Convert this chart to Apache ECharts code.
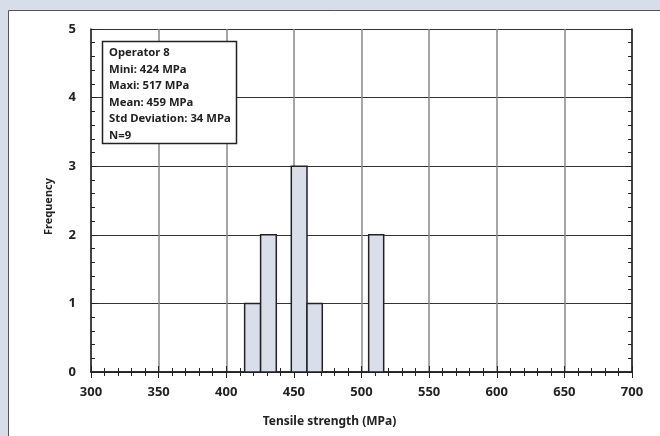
<!DOCTYPE html>
<html>
<head>
<meta charset="utf-8">
<title></title>
<script src="https://cdn.jsdelivr.net/npm/echarts@6/dist/echarts.min.js"></script>
</head>
<body style="margin:0;">
<div id="main" style="width:660px;height:436px;"></div>
<script>
// histogram bins (MPa) and counts
var binStart = [413.6, 425.4, 448.1, 459.7, 505.3];
var binEnd = [425.4, 437.0, 459.7, 471.0, 516.4];
var counts = [1, 2, 3, 1, 2];
var statsLines = ['Operator 8', 'Mini: 424 MPa', 'Maxi: 517 MPa', 'Mean: 459 MPa', 'Std Deviation: 34 MPa', 'N=9'];

var myChart = echarts.init(document.getElementById('main'));

var data = [];
for (var i = 0; i < counts.length; i++) {
	data.push([binStart[i], binEnd[i], counts[i]]);
}

var font = 'Noto Sans';
var tickStyle = { show: true, inside: true, length: 6, lineStyle: { color: '#222', width: 1 } };
var minorStyle = { show: true, splitNumber: 5, length: 4, lineStyle: { color: '#222', width: 1 } };

var option = {
	backgroundColor: '#d8dee9',
	animation: false,
	graphic: [{
		type: 'rect',
		z: -10,
		shape: { x: 8.5, y: 10.5, width: 700, height: 500 },
		style: { fill: '#fff', stroke: '#555', lineWidth: 1 }
	}, {
		type: 'rect',
		z: 100,
		shape: { x: 102.5, y: 41.5, width: 134, height: 102 },
		style: { fill: '#fff', stroke: '#222', lineWidth: 1.5 }
	}, {
		type: 'text',
		z: 101,
		left: 109,
		top: 45,
		style: {
			text: statsLines.join('\n'),
			font: 'bold 11.3px "Noto Sans"',
			lineHeight: 16.5,
			fill: '#222'
		}
	}],
	grid: {
		left: 91,
		right: 28,
		top: 29,
		bottom: 64
	},
	xAxis: [{
		type: 'value',
		min: 300,
		max: 700,
		interval: 50,
		name: 'Tensile strength (MPa)',
		nameLocation: 'middle',
		nameGap: 44,
		nameTextStyle: { fontFamily: font, fontWeight: 'bold', fontSize: 12, color: '#222', padding: [0, 64, 0, 0] },
		axisLine: { lineStyle: { color: '#222', width: 1.5 } },
		axisTick: tickStyle,
		minorTick: minorStyle,
		axisLabel: { fontFamily: font, fontWeight: 'bold', fontSize: 13, color: '#222', margin: 14 },
		splitLine: { show: true, lineStyle: { color: '#888', width: 1.5 } }
	}, {
		type: 'value',
		position: 'top',
		min: 300,
		max: 700,
		interval: 50,
		axisLine: { lineStyle: { color: '#222', width: 1.5 } },
		axisTick: tickStyle,
		minorTick: minorStyle,
		axisLabel: { show: false },
		splitLine: { show: false }
	}],
	yAxis: [{
		type: 'value',
		min: 0,
		max: 5,
		interval: 1,
		name: 'Frequency',
		nameLocation: 'middle',
		nameGap: 37,
		nameTextStyle: { fontFamily: font, fontWeight: 'bold', fontSize: 11, color: '#222', padding: [0, 12, 0, 0] },
		axisLine: { show: true, lineStyle: { color: '#222', width: 1.5 } },
		axisTick: tickStyle,
		minorTick: minorStyle,
		axisLabel: { fontFamily: font, fontWeight: 'bold', fontSize: 13, color: '#222', margin: 15 },
		splitLine: { show: true, lineStyle: { color: '#333', width: 1 } }
	}, {
		type: 'value',
		position: 'right',
		min: 0,
		max: 5,
		interval: 1,
		axisLine: { show: true, lineStyle: { color: '#222', width: 1.5 } },
		axisTick: tickStyle,
		minorTick: minorStyle,
		axisLabel: { show: false },
		splitLine: { show: false }
	}],
	series: [{
		type: 'custom',
		renderItem: function (params, api) {
			var p0 = api.coord([api.value(0), 0]);
			var p1 = api.coord([api.value(1), api.value(2)]);
			return {
				type: 'rect',
				shape: { x: p0[0], y: p1[1], width: p1[0] - p0[0], height: p0[1] - p1[1] },
				style: { fill: '#d8deea', stroke: '#222', lineWidth: 1.5 }
			};
		},
		encode: { x: [0, 1], y: 2 },
		data: data
	}]
};

myChart.setOption(option);
</script>
</body>
</html>
